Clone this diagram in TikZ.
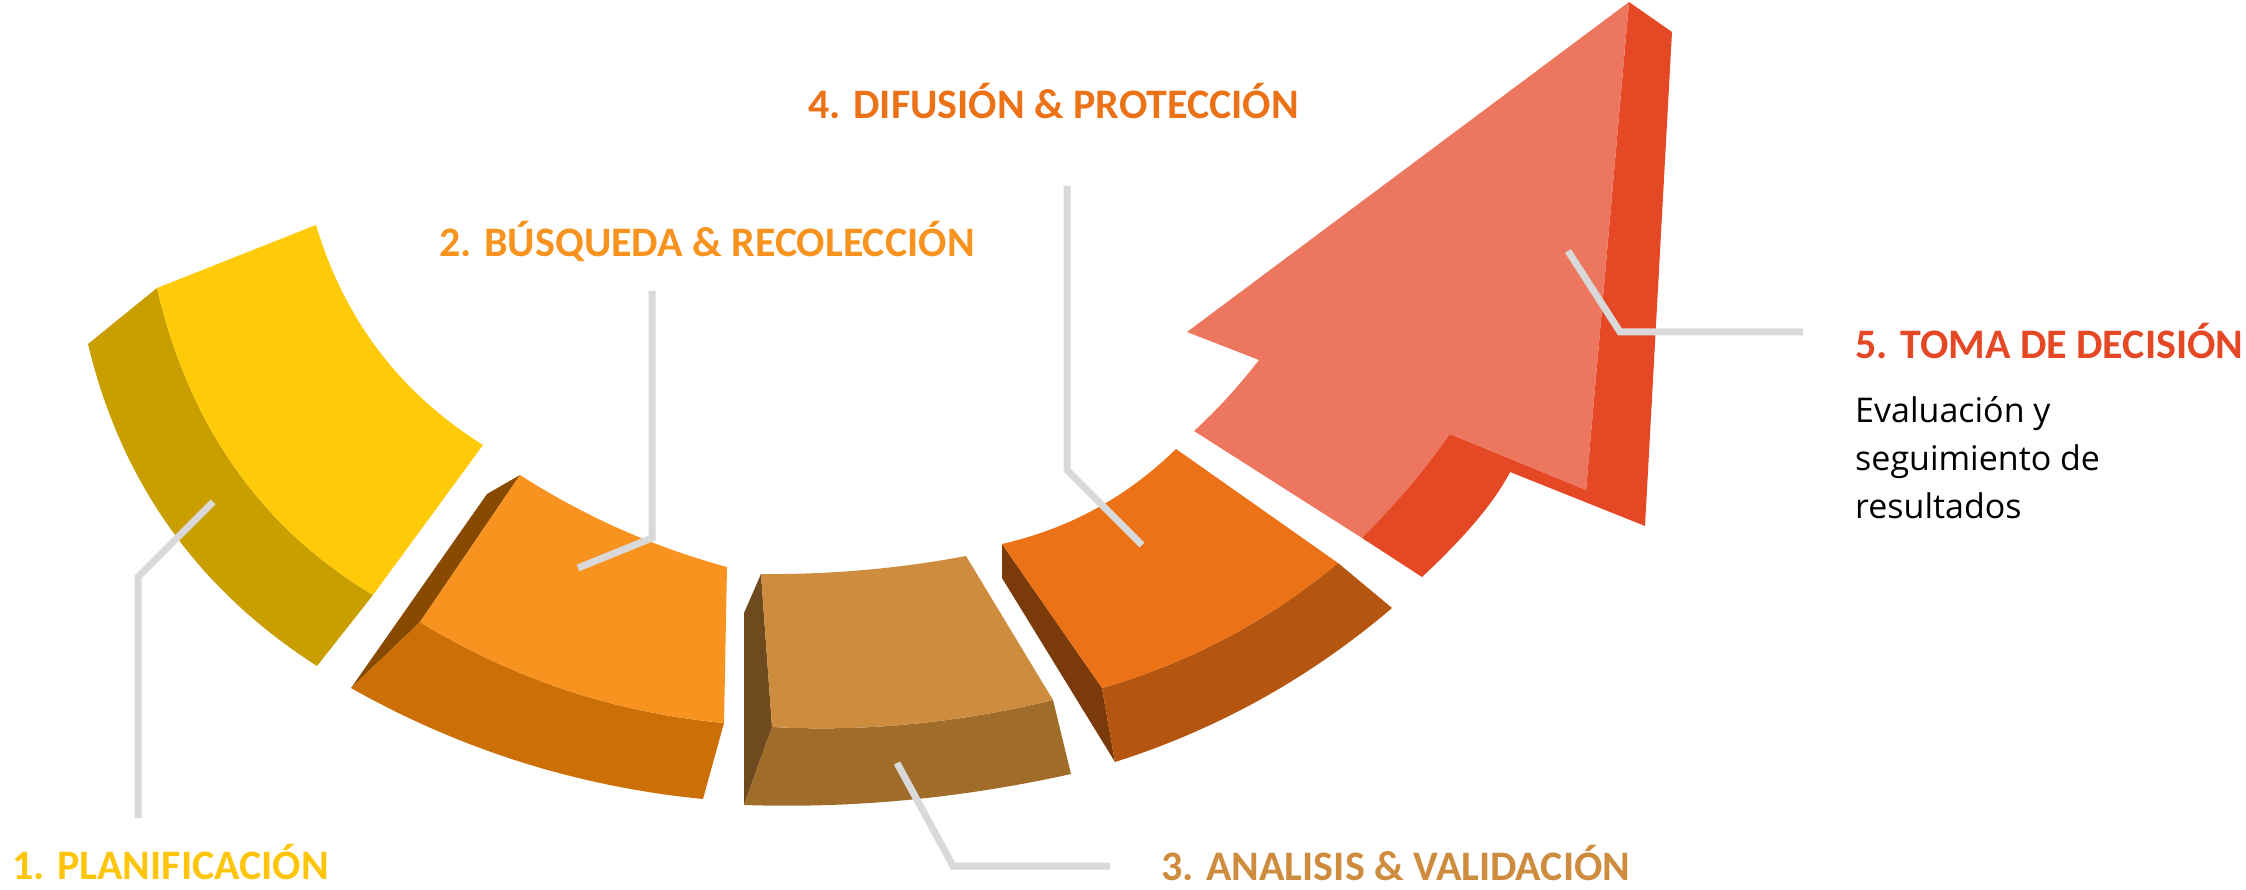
\documentclass[tikz,border=0pt]{standalone}
\usepackage{fontspec}
\setmainfont{Carlito}
\newfontfamily\bodyfont{Open Sans}
\definecolor{yTop}{HTML}{FFCB08}
\definecolor{ySide}{HTML}{C89E00}
\definecolor{oTop}{HTML}{F7931E}
\definecolor{oFront}{HTML}{CC6F06}
\definecolor{oSide}{HTML}{874A00}
\definecolor{bTop}{HTML}{CE8C3F}
\definecolor{bFront}{HTML}{A06C2A}
\definecolor{bSide}{HTML}{6E4A1E}
\definecolor{rTop}{HTML}{EC7218}
\definecolor{rFront}{HTML}{B4560F}
\definecolor{rSide}{HTML}{7A3A0A}
\definecolor{aLight}{HTML}{ED765E}
\definecolor{aDark}{HTML}{E54825}
\definecolor{leadgray}{HTML}{D9D9D9}
\definecolor{lblY}{HTML}{FFC50A}
\begin{document}
\begin{tikzpicture}[x=1pt,y=-1pt,
  lead/.style={draw=leadgray,line width=7pt},
  lbl/.style={anchor=base west,inner sep=0pt,font=\fontsize{42}{50}\selectfont\bfseries},
  body/.style={anchor=base west,inner sep=0pt,font=\bodyfont\fontsize{34}{48}\selectfont}]
\useasboundingbox (0,0) rectangle (2246,890);
% ---------- segment 1 ----------
\fill[ySide] (88,344) -- (157,288) .. controls (189,425.7) and (261,528) .. (373,595)
  -- (317,666) .. controls (197.3,589.3) and (121,482) .. (88,344) -- cycle;
\fill[yTop] (157,288) -- (316,225) .. controls (344.3,319.7) and (400,393) .. (483,445)
  -- (373,595) .. controls (261,528) and (189,425.7) .. (157,288) -- cycle;
% ---------- segment 2 ----------
\fill[oSide] (520,475) -- (487,494) -- (351,688) -- (420,622) -- cycle;
\fill[oFront] (351,688) -- (420,622) .. controls (513.3,679) and (614.7,712.7) .. (724,723)
  -- (703,799) .. controls (577.7,786.7) and (460.3,749.7) .. (351,688) -- cycle;
\fill[oTop] (520,475) .. controls (584.3,516.3) and (653.3,547) .. (727,567)
  -- (724,723) .. controls (614.7,712.7) and (513.3,679) .. (420,622) -- cycle;
% ---------- segment 3 ----------
\fill[bSide] (761,574) -- (744,613) -- (744,805) -- (772,727) -- cycle;
\fill[bFront] (772,727) .. controls (865,732) and (958.7,723) .. (1053,700)
  -- (1071,774) .. controls (961.3,798.3) and (852.3,808.7) .. (744,805) -- cycle;
\fill[bTop] (761,574) .. controls (830,574.7) and (898.3,568.7) .. (966,556)
  -- (1053,700) .. controls (958.7,723) and (865,732) .. (772,727) -- cycle;
% ---------- segment 4 ----------
\fill[rSide] (1002,544) -- (1002,578) -- (1115,762) -- (1102,688) -- cycle;
\fill[rFront] (1102,688) .. controls (1189.3,662.9) and (1268,621.2) .. (1338,563)
  -- (1392,608) .. controls (1310,678) and (1217.7,729.3) .. (1115,762) -- cycle;
\fill[rTop] (1002,544) .. controls (1068.9,528.7) and (1126.9,497.1) .. (1176,449)
  -- (1338,563) .. controls (1268,621.2) and (1189.3,662.9) .. (1102,688) -- cycle;
% ---------- arrow ----------
\fill[aDark] (1629,2) -- (1672,32) -- (1645,526) -- (1510,472)
  .. controls (1495.3,501) and (1466,536) .. (1422,577) -- (1362,538) -- (1450,434) -- (1586,490) -- cycle;
\fill[aLight] (1629,2) -- (1187,332) -- (1259,360)
  .. controls (1238,387) and (1216.3,410.7) .. (1194,431) -- (1362,538)
  .. controls (1396.7,503.3) and (1426,468.7) .. (1450,434) -- (1586,490) -- cycle;
% ---------- leader lines ----------
\coordinate (l1a) at (213,502); \coordinate (l1b) at (138,577); \coordinate (l1c) at (138,818);
\coordinate (l2a) at (578,568); \coordinate (l2b) at (652,538); \coordinate (l2c) at (652,291);
\coordinate (l3a) at (897,763); \coordinate (l3b) at (953,866); \coordinate (l3c) at (1110,866);
\coordinate (l4a) at (1142,545); \coordinate (l4b) at (1067,470); \coordinate (l4c) at (1067,186);
\coordinate (l5a) at (1568,251); \coordinate (l5b) at (1620,332); \coordinate (l5c) at (1803,332);
\draw[lead] (l1a) -- (l1b) -- (l1c);
\draw[lead] (l2a) -- (l2b) -- (l2c);
\draw[lead] (l3a) -- (l3b) -- (l3c);
\draw[lead] (l4a) -- (l4b) -- (l4c);
\draw[lead] (l5a) -- (l5b) -- (l5c);
% ---------- labels ----------
\node[lbl,text=lblY] (t1) at (12,879) {1. PLANIFICACIÓN};
\node[lbl,text=oTop] (t2) at (439,257) {2. BÚSQUEDA \& RECOLECCIÓN};
\node[lbl,text=bTop] (t3) at (1161,880) {3. ANALISIS \& VALIDACIÓN};
\node[lbl,text=rTop] (t4) at (808,119) {4. DIFUSIÓN \& PROTECCIÓN};
\node[lbl,text=aDark] (t5) at (1855,359) {5. TOMA DE DECISIÓN};
\node[body] (b1) at (1855,422) {Evaluación y};
\node[body] (b2) at (1855,470) {seguimiento de};
\node[body] (b3) at (1855,518) {resultados};
\end{tikzpicture}
\end{document}
